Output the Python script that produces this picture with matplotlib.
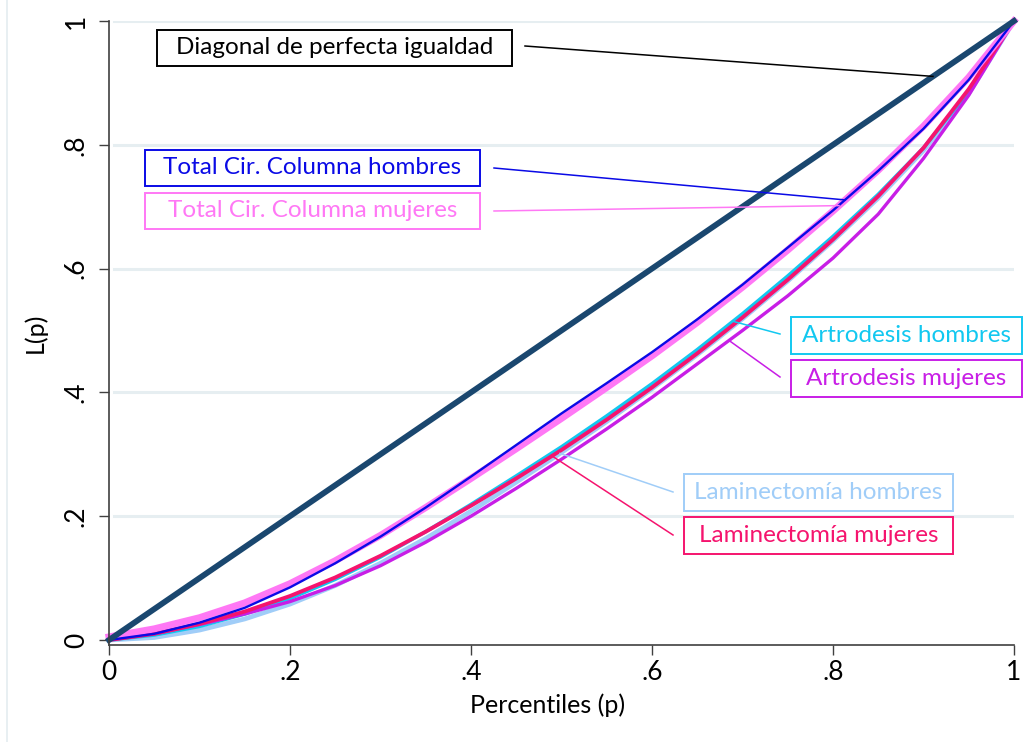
import numpy as np
import matplotlib
matplotlib.use('Agg')
from matplotlib import pyplot as plt
from matplotlib.patches import Rectangle
from matplotlib.lines import Line2D

plt.rcParams['font.family'] = ['Lato', 'DejaVu Sans']

# Lorenz curves L(p) per procedure and sex
p = [0, .05, .10, .15, .20, .25, .30, .35, .40, .45, .50,
     .55, .60, .65, .70, .75, .80, .85, .90, .95, 1]
tcc_hombres = [0, .010, .028, .052, .085, .124, .167, .214, .264, .315, .366,
               .415, .465, .518, .574, .634, .694, .758, .826, .905, 1]
tcc_mujeres = [.005, .018, .036, .060, .091, .128, .169, .214, .261, .309, .358,
               .408, .459, .513, .570, .630, .693, .759, .830, .909, 1]
artro_hombres = [0, .008, .022, .042, .067, .098, .134, .175, .219, .265, .312,
                 .362, .414, .469, .527, .588, .652, .720, .795, .886, 1]
artro_mujeres = [0, .010, .025, .042, .062, .088, .120, .158, .200, .245, .292,
                 .341, .392, .446, .500, .556, .617, .688, .778, .880, 1]
lamin_hombres = [0, .004, .016, .034, .058, .088, .124, .164, .208, .255, .303,
                 .353, .406, .461, .519, .580, .645, .714, .791, .883, 1]
lamin_mujeres = [0, .010, .026, .046, .071, .101, .136, .175, .217, .261, .307,
                 .356, .408, .463, .521, .582, .647, .717, .795, .890, 1]

navy = '#1a476f'
c_tcc_h = '#0a0ae6'
c_tcc_m = '#ff78f5'
c_artro_h = '#12c8f0'
c_artro_m = '#c81ee6'
c_lamin_h = '#a0cdf8'
c_lamin_m = '#f5146e'

fig = plt.figure(figsize=(10.27, 7.42), dpi=100)
ax = fig.add_axes([109 / 1027, 97 / 742, 905 / 1027, 624 / 742])
ax.set_xlim(0, 1)
ax.set_ylim(-0.0081, 1.0)

# light grid, no line at zero
for g in [.2, .4, .6, .8, 1]:
    ax.axhline(g, xmin=0.005, xmax=1, color='#e6eef1', lw=2.2, zorder=0)

ax.plot(p, lamin_hombres, color=c_lamin_h, lw=3.4, clip_on=False)
ax.plot(p, artro_hombres, color=c_artro_h, lw=2.6, clip_on=False)
ax.plot(p, artro_mujeres, color=c_artro_m, lw=2.4, clip_on=False)
ax.plot(p, lamin_mujeres, color=c_lamin_m, lw=2.8, clip_on=False)
ax.plot(p, tcc_mujeres, color=c_tcc_m, lw=5.0, clip_on=False)
ax.plot(p, tcc_hombres, color=c_tcc_h, lw=1.7, clip_on=False)
ax.plot([0, 1], [0, 1], color=navy, lw=4.2, clip_on=False)


def px(x):
    return (x - 109) / 905.0


def py(y):
    return (640 - y) / 619.0


# labels: text, colour, box (pixels), connector start (pixels), curve, x on curve
labels = [
    ('Diagonal de perfecta igualdad', 'black', (157, 512, 30, 66), (525, 46), ([0, 1], [0, 1]), px(933)),
    ('Total Cir. Columna hombres', c_tcc_h, (145, 480, 150, 186), (494, 168), (p, tcc_hombres), px(845)),
    ('Total Cir. Columna mujeres', c_tcc_m, (145, 480, 193, 229), (494, 211), (p, tcc_mujeres), px(839)),
    ('Artrodesis hombres', c_artro_h, (791, 1022, 317, 354), (780, 334), (p, artro_hombres), px(733)),
    ('Artrodesis mujeres', c_artro_m, (791, 1022, 360, 397), (780, 377), (p, artro_mujeres), px(729)),
    ('Laminectomía hombres', c_lamin_h, (684, 953, 474, 511), (673, 492), (p, lamin_hombres), px(560)),
    ('Laminectomía mujeres', c_lamin_m, (684, 953, 517, 554), (673, 535), (p, lamin_mujeres), px(552)),
]
for text, col, (x0, x1, y0, y1), (sx, sy), (cx, cy), xe in labels:
    ye = np.interp(xe, cx, cy)
    ax.plot([px(sx), xe], [py(sy), ye], color=col, lw=1.1, clip_on=False, zorder=5)
    ax.add_patch(Rectangle((px(x0), py(y1)), px(x1) - px(x0), py(y0) - py(y1),
                           facecolor='white', edgecolor=col, lw=1.4, clip_on=False, zorder=6))
    ax.text((px(x0) + px(x1)) / 2, (py(y0) + py(y1)) / 2, text, color=col,
            fontsize=17.5, ha='center', va='center', zorder=7)

for s in ['top', 'right']:
    ax.spines[s].set_visible(False)
for s in ['left', 'bottom']:
    ax.spines[s].set_color('#404040')
    ax.spines[s].set_linewidth(1.2)

ax.set_xticks([0, .2, .4, .6, .8, 1])
ax.set_xticklabels(['0', '.2', '.4', '.6', '.8', '1'])
ax.set_yticks([0, .2, .4, .6, .8, 1])
ax.set_yticklabels(['0', '.2', '.4', '.6', '.8', '1'], rotation=90, va='center')
ax.tick_params(direction='out', length=7.5, width=1.0, color='#404040', labelsize=19, pad=3)
ax.tick_params(axis='y', pad=7)

ax.set_xlabel('Percentiles (p)', fontsize=18, va='center')
ax.xaxis.set_label_coords((548 - 109) / 905, (645 - 705) / 624)
ax.set_ylabel('L(p)', fontsize=18, va='center', ha='center')
ax.yaxis.set_label_coords((35 - 109) / 905, 0.5)

# thin border on the left of the graph region
fig.add_artist(Line2D([7 / 1027, 7 / 1027], [0, 1], color='#e4ecf0', lw=1.2))

fig.savefig('out.png', dpi=100, facecolor='white')
